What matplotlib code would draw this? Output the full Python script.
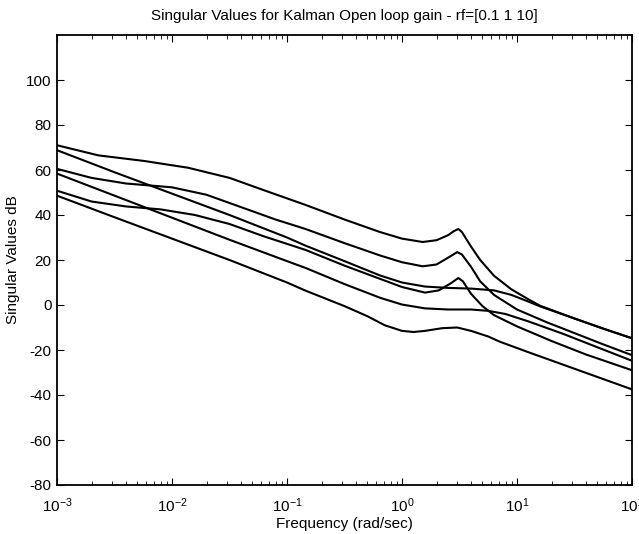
import matplotlib
matplotlib.use('Agg')
import matplotlib.pyplot as plt
import numpy as np

# frequency exponents (log10 rad/sec) and singular values in dB
# curve 1: top, plateau then resonance
c1_exp = [-3, -2.64, -2.24, -1.86, -1.5, -1.2, -0.84, -0.5, -0.19, 0.0, 0.18, 0.3, 0.4,
          0.45, 0.49, 0.52, 0.6, 0.68, 0.8, 0.95, 1.1, 1.2, 1.5, 1.75, 2.0]
c1_db = [71, 66.5, 64, 61, 56.5, 51, 44.5, 38, 32.4, 29.5, 28, 28.8, 31,
         32.8, 33.8, 32.5, 26, 20, 13, 7, 2.5, -0.3, -6, -10.5, -14.8]

# curve 2: straight, flattens near 8 dB
c2_exp = [-3, -2.5, -2, -1.5, -1, -0.84, -0.5, -0.19, 0.0, 0.2, 0.4, 0.6, 0.8, 0.95,
          1.1, 1.2, 1.5, 1.75, 2.0]
c2_db = [68.8, 59, 49.5, 40, 30, 26.4, 19.5, 13.1, 10, 8.2, 7.6, 7.3, 6.5, 4.5,
         1.5, -0.6, -6, -10.5, -14.8]

# curve 3: plateau near 53 dB, resonance
c3_exp = [-3, -2.7, -2.4, -2.0, -1.7, -1.4, -1.1, -0.84, -0.5, -0.19, 0.0, 0.18, 0.3,
          0.4, 0.48, 0.52, 0.6, 0.68, 0.8, 1.0, 1.26, 1.5, 1.75, 2.0]
c3_db = [60.5, 56.5, 54, 52.3, 49, 43.5, 38, 33.8, 27.5, 22, 19, 17.2, 18,
         21, 23.5, 22.5, 17, 10.5, 4.5, -2, -7.7, -12.5, -17.5, -22.3]

# curve 4: straight, flattens near -2 dB
c4_exp = [-3, -2.5, -2, -1.5, -1, -0.84, -0.5, -0.19, 0.0, 0.2, 0.4, 0.6, 0.75, 0.9,
          1.1, 1.4, 1.7, 2.0]
c4_db = [58.4, 48.6, 38.8, 29, 19.5, 16.5, 9.3, 3.2, 0.2, -1.5, -2, -2, -2.6, -4,
         -7.3, -12.8, -18.8, -24.8]

# curve 5: plateau near 43 dB, resonance
c5_exp = [-3, -2.7, -2.4, -2.1, -1.8, -1.5, -1.2, -0.84, -0.5, -0.19, 0.0, 0.2, 0.32,
          0.42, 0.49, 0.53, 0.6, 0.7, 0.8, 1.0, 1.3, 1.6, 2.0]
c5_db = [50.8, 46, 43.8, 42.5, 40, 36, 30.5, 24.5, 17.5, 11.6, 8, 5.5, 6.5,
         9.5, 12, 10.5, 5, -0.5, -4.5, -9.5, -16, -22, -29]

# curve 6: bottom, straight with small dip and hump
c6_exp = [-3, -2.5, -2, -1.5, -1, -0.84, -0.5, -0.3, -0.15, 0.0, 0.1, 0.2, 0.35, 0.48,
          0.6, 0.75, 0.85, 1.1, 1.4, 1.7, 2.0]
c6_db = [48.6, 39, 29.5, 20, 10, 6.4, -0.5, -5, -9, -11.5, -12, -11.5, -10.3, -10,
         -11.5, -14, -16.3, -21, -26.5, -32, -37.5]

curves = [(c1_exp, c1_db), (c2_exp, c2_db), (c3_exp, c3_db),
          (c4_exp, c4_db), (c5_exp, c5_db), (c6_exp, c6_db)]

y_ticks = [-80, -60, -40, -20, 0, 20, 40, 60, 80, 100]

plt.rcParams['font.family'] = ['Liberation Sans', 'DejaVu Sans']
plt.rcParams['axes.unicode_minus'] = False
plt.rcParams['mathtext.fontset'] = 'custom'
plt.rcParams['mathtext.rm'] = 'Liberation Sans'
plt.rcParams['mathtext.it'] = 'Liberation Sans'

fig = plt.figure(figsize=(6.39, 5.34), dpi=100)
ax = fig.add_axes([57 / 639, 49 / 534, 575 / 639, 450 / 534])

for exps, db in curves:
    ax.plot(10.0 ** np.array(exps), db, color='black', linewidth=1.5)

ax.set_xscale('log')
ax.set_xlim(1e-3, 1e2)
ax.set_ylim(-80, 120)
ax.set_yticks(y_ticks)
ax.tick_params(which='both', direction='in', top=True, right=True, labelsize=11)
ax.tick_params(which='major', length=5)
ax.tick_params(which='minor', length=3)
ax.tick_params(axis='x', which='major', pad=8)
ax.tick_params(axis='y', which='major', pad=4)
for s in ax.spines.values():
    s.set_linewidth(1.3)

ax.set_title('Singular Values for Kalman Open loop gain - rf=[0.1 1 10]', fontsize=11, pad=11)
ax.set_xlabel('Frequency (rad/sec)', fontsize=11, labelpad=2)
ax.set_ylabel('Singular Values dB', fontsize=11, labelpad=4)

fig.savefig('out.png', dpi=100)
